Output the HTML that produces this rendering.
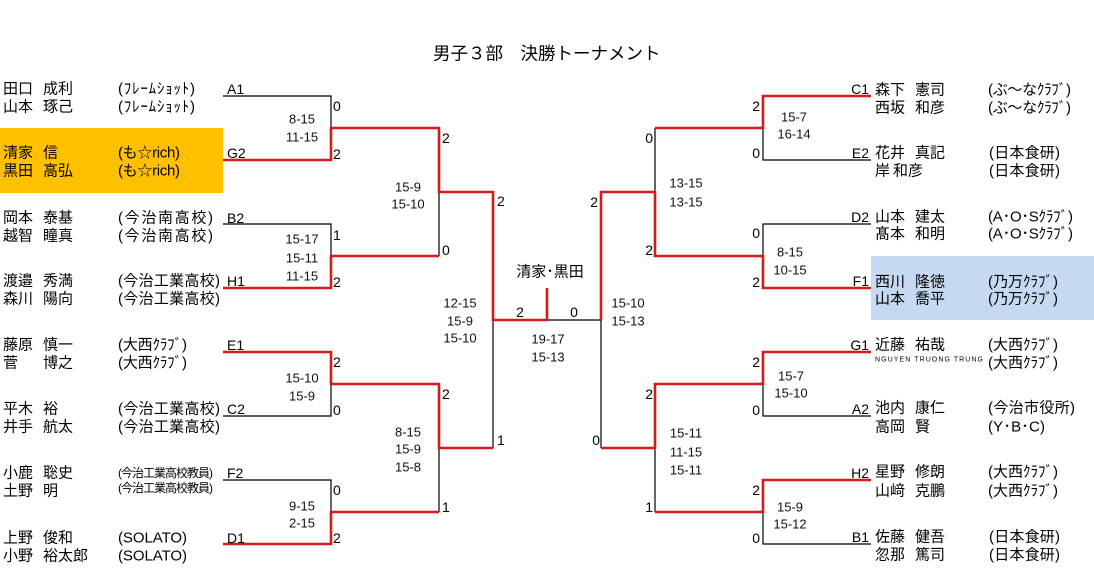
<!DOCTYPE html>
<html><head><meta charset="utf-8">
<style>
html,body{margin:0;padding:0;background:#fff;}
svg{display:block;}
text{font-family:"Liberation Sans","Noto Sans CJK JP",sans-serif;dominant-baseline:central;fill:#000;}
.nm{font-size:15px;}
.sm{font-size:12px;}
.cd{font-size:14px;}
.dg{font-size:14px;}
.sc{font-size:13px;fill:#111;text-anchor:middle;}
.ti{font-family:"Noto Sans CJK JP",sans-serif;font-size:17.5px;}
</style></head>
<body>
<svg width="1094" height="577" viewBox="0 0 1094 577" xmlns="http://www.w3.org/2000/svg">
<!-- highlights -->
<rect x="0" y="128" width="223" height="65" fill="#FFC000"/>
<rect x="871" y="256" width="223" height="64" fill="#C5D9F1"/>

<!-- title -->
<text class="ti" x="433" y="53">男子３部　決勝トーナメント</text>

<!-- black lines -->
<g stroke="#000" stroke-width="1.2" fill="none">
<path d="M223,96 H331 V128"/>
<path d="M223,224 H331 V256"/>
<path d="M223,416 H331 V384"/>
<path d="M223,480 H331 V512"/>
<path d="M439,192 V256"/>
<path d="M439,448 V512"/>
<path d="M493,320 V448"/>
<path d="M547,320 H601 V448"/>
<path d="M871,160 H763 V128"/>
<path d="M871,224 H763 V256"/>
<path d="M871,416 H763 V384"/>
<path d="M871,544 H763 V512"/>
<path d="M655,128 V192"/>
<path d="M655,448 V512"/>
</g>

<!-- red lines -->
<g stroke="#d01c1c" stroke-width="2.6" fill="none" stroke-linejoin="miter">
<path d="M223,160 H331 V128 H439 V192 H493 V320 H547 V288"/>
<path d="M223,288 H331 V256 H439"/>
<path d="M223,352 H331 V384 H439 V448 H493"/>
<path d="M223,544 H331 V512 H439"/>
<path d="M871,96 H763 V128 H655"/>
<path d="M871,288 H763 V256 H655 V192 H601 V320"/>
<path d="M871,352 H763 V384 H655 V448 H601"/>
<path d="M871,480 H763 V512 H655"/>
</g>

<!-- left names -->
<g class="nm">
<text x="3" y="89">田口</text><text x="43" y="89">成利</text><text x="118" y="89" textLength="77">(ﾌﾚｰﾑｼｮｯﾄ)</text>
<text x="3" y="107">山本</text><text x="43" y="107">琢己</text><text x="118" y="107" textLength="77">(ﾌﾚｰﾑｼｮｯﾄ)</text>
<text x="3" y="153">清家</text><text x="43" y="153">信</text><text x="118" y="153" textLength="62">(も☆rich)</text>
<text x="3" y="171">黒田</text><text x="43" y="171">高弘</text><text x="118" y="171" textLength="62">(も☆rich)</text>
<text x="3" y="218">岡本</text><text x="43" y="218">泰基</text><text x="118" y="218" textLength="95">(今治南高校)</text>
<text x="3" y="236">越智</text><text x="43" y="236">瞳真</text><text x="118" y="236" textLength="95">(今治南高校)</text>
<text x="3" y="281">渡邉</text><text x="43" y="281">秀満</text><text x="118" y="281" textLength="102">(今治工業高校)</text>
<text x="3" y="299">森川</text><text x="43" y="299">陽向</text><text x="118" y="299" textLength="102">(今治工業高校)</text>
<text x="3" y="345">藤原</text><text x="43" y="345">慎一</text><text x="118" y="345" textLength="69">(大西ｸﾗﾌﾞ)</text>
<text x="3" y="363">菅</text><text x="43" y="363">博之</text><text x="118" y="363" textLength="69">(大西ｸﾗﾌﾞ)</text>
<text x="3" y="409">平木</text><text x="43" y="409">裕</text><text x="118" y="409" textLength="102">(今治工業高校)</text>
<text x="3" y="427">井手</text><text x="43" y="427">航太</text><text x="118" y="427" textLength="102">(今治工業高校)</text>
<text x="3" y="473">小鹿</text><text x="43" y="473">聡史</text>
<text x="3" y="491">土野</text><text x="43" y="491">明</text>
<text x="3" y="538">上野</text><text x="43" y="538">俊和</text><text x="118" y="538" textLength="69">(SOLATO)</text>
<text x="3" y="556">小野</text><text x="43" y="556">裕太郎</text><text x="118" y="556" textLength="69">(SOLATO)</text>
</g>
<text class="sm" x="118" y="473" textLength="95">(今治工業高校教員)</text>
<text class="sm" x="118" y="488" textLength="95">(今治工業高校教員)</text>

<!-- right names -->
<g class="nm">
<text x="875" y="90">森下</text><text x="915" y="90">憲司</text><text x="988" y="90" textLength="83">(ぶ～なｸﾗﾌﾞ)</text>
<text x="875" y="108">西坂</text><text x="915" y="108">和彦</text><text x="988" y="108" textLength="83">(ぶ～なｸﾗﾌﾞ)</text>
<text x="875" y="153">花井</text><text x="915" y="153">真記</text><text x="989" y="153" textLength="71">(日本食研)</text>
<text x="875" y="171">岸</text><text x="893" y="171">和彦</text><text x="989" y="171" textLength="71">(日本食研)</text>
<text x="875" y="217">山本</text><text x="915" y="217">建太</text><text x="988" y="217" textLength="85">(A･O･Sｸﾗﾌﾞ)</text>
<text x="875" y="234">髙本</text><text x="915" y="234">和明</text><text x="988" y="234" textLength="85">(A･O･Sｸﾗﾌﾞ)</text>
<text x="875" y="282">西川</text><text x="915" y="282">隆徳</text><text x="988" y="282" textLength="70">(乃万ｸﾗﾌﾞ)</text>
<text x="875" y="299">山本</text><text x="915" y="299">喬平</text><text x="988" y="299" textLength="70">(乃万ｸﾗﾌﾞ)</text>
<text x="875" y="345">近藤</text><text x="915" y="345">祐哉</text><text x="988" y="345" textLength="70">(大西ｸﾗﾌﾞ)</text>
<text x="988" y="363" textLength="70">(大西ｸﾗﾌﾞ)</text>
<text x="875" y="408">池内</text><text x="915" y="408">康仁</text><text x="988" y="408" textLength="87">(今治市役所)</text>
<text x="875" y="427">高岡</text><text x="915" y="427">賢</text><text x="988" y="427" textLength="57">(Y･B･C)</text>
<text x="875" y="472">星野</text><text x="915" y="472">修朗</text><text x="988" y="472" textLength="70">(大西ｸﾗﾌﾞ)</text>
<text x="875" y="491">山﨑</text><text x="915" y="491">克鵬</text><text x="988" y="491" textLength="70">(大西ｸﾗﾌﾞ)</text>
<text x="875" y="537">佐藤</text><text x="915" y="537">健吾</text><text x="989" y="537" textLength="71">(日本食研)</text>
<text x="875" y="555">忽那</text><text x="915" y="555">篤司</text><text x="989" y="555" textLength="71">(日本食研)</text>
</g>
<text x="875" y="360" font-size="7" textLength="108" lengthAdjust="spacing">NGUYEN TRUONG TRUNG</text>

<!-- codes -->
<g class="cd">
<text x="227" y="89">A1</text>
<text x="227" y="153">G2</text>
<text x="227" y="218">B2</text>
<text x="227" y="281">H1</text>
<text x="227" y="345">E1</text>
<text x="227" y="409">C2</text>
<text x="227" y="473">F2</text>
<text x="227" y="538">D1</text>
<text x="869" y="89" text-anchor="end">C1</text>
<text x="869" y="153" text-anchor="end">E2</text>
<text x="869" y="217" text-anchor="end">D2</text>
<text x="869" y="281" text-anchor="end">F1</text>
<text x="869" y="345" text-anchor="end">G1</text>
<text x="869" y="409" text-anchor="end">A2</text>
<text x="869" y="473" text-anchor="end">H2</text>
<text x="869" y="537" text-anchor="end">B1</text>
</g>

<!-- match digits -->
<g class="dg">
<text x="333" y="106">0</text>
<text x="333" y="154">2</text>
<text x="333" y="235">1</text>
<text x="333" y="282">2</text>
<text x="333" y="362">2</text>
<text x="333" y="410">0</text>
<text x="333" y="490">0</text>
<text x="333" y="538">2</text>
<text x="442" y="138">2</text>
<text x="442" y="250">0</text>
<text x="442" y="394">2</text>
<text x="442" y="507">1</text>
<text x="497" y="201">2</text>
<text x="497" y="440">1</text>
<text x="520" y="312" text-anchor="middle">2</text>
<text x="574" y="312" text-anchor="middle">0</text>
<text x="598" y="202" text-anchor="end">2</text>
<text x="600" y="440" text-anchor="end">0</text>
<text x="653" y="138" text-anchor="end">0</text>
<text x="653" y="250" text-anchor="end">2</text>
<text x="653" y="394" text-anchor="end">2</text>
<text x="653" y="507" text-anchor="end">1</text>
<text x="760" y="106" text-anchor="end">2</text>
<text x="760" y="153" text-anchor="end">0</text>
<text x="760" y="233" text-anchor="end">0</text>
<text x="760" y="282" text-anchor="end">2</text>
<text x="760" y="362" text-anchor="end">2</text>
<text x="760" y="410" text-anchor="end">0</text>
<text x="760" y="490" text-anchor="end">2</text>
<text x="760" y="538" text-anchor="end">0</text>
</g>

<text class="nm" x="550" y="272" text-anchor="middle">清家･黒田</text>

<!-- game scores -->
<g>
<text class="sc" x="302" y="119">8-15</text>
<text class="sc" x="302" y="137">11-15</text>
<text class="sc" x="302" y="239">15-17</text>
<text class="sc" x="302" y="258">15-11</text>
<text class="sc" x="302" y="276">11-15</text>
<text class="sc" x="302" y="378">15-10</text>
<text class="sc" x="302" y="396">15-9</text>
<text class="sc" x="302" y="506">9-15</text>
<text class="sc" x="302" y="523">2-15</text>
<text class="sc" x="408" y="187">15-9</text>
<text class="sc" x="408" y="204">15-10</text>
<text class="sc" x="408" y="432">8-15</text>
<text class="sc" x="408" y="449">15-9</text>
<text class="sc" x="408" y="467">15-8</text>
<text class="sc" x="460" y="303">12-15</text>
<text class="sc" x="460" y="321">15-9</text>
<text class="sc" x="460" y="338">15-10</text>
<text class="sc" x="548" y="339">19-17</text>
<text class="sc" x="548" y="357">15-13</text>
<text class="sc" x="628" y="303">15-10</text>
<text class="sc" x="628" y="321">15-13</text>
<text class="sc" x="686" y="183">13-15</text>
<text class="sc" x="686" y="202">13-15</text>
<text class="sc" x="686" y="433">15-11</text>
<text class="sc" x="686" y="452">11-15</text>
<text class="sc" x="686" y="470">15-11</text>
<text class="sc" x="794" y="117">15-7</text>
<text class="sc" x="794" y="134">16-14</text>
<text class="sc" x="790" y="252">8-15</text>
<text class="sc" x="790" y="270">10-15</text>
<text class="sc" x="791" y="376">15-7</text>
<text class="sc" x="791" y="393">15-10</text>
<text class="sc" x="790" y="507">15-9</text>
<text class="sc" x="790" y="524">15-12</text>
</g>
</svg>
</body></html>
